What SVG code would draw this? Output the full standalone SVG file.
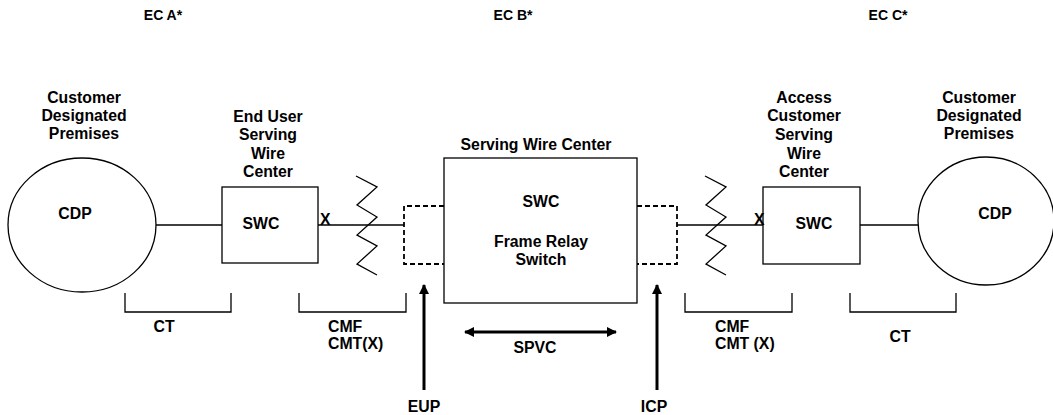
<svg xmlns="http://www.w3.org/2000/svg" width="1053" height="415" viewBox="0 0 1053 415">
<defs>
<style>
text{font-family:"Liberation Sans",Arial,sans-serif;font-weight:bold;font-size:15.8px;fill:#000}
.c{text-anchor:middle}
.ec{font-size:14px}
.ln{fill:none;stroke:#000;stroke-width:1.3}
.ds{fill:none;stroke:#000;stroke-width:1.8;stroke-dasharray:5 3}
.th{fill:none;stroke:#000;stroke-width:3}
</style>
<marker id="ah" viewBox="0 0 10 10" refX="9" refY="5" markerWidth="10" markerHeight="10" markerUnits="userSpaceOnUse" orient="auto-start-reverse">
<path d="M0,0 L10,5 L0,10 z" fill="#000"/>
</marker>
</defs>
<rect width="1053" height="415" fill="#fff"/>
<g id="labels-top">
<text class="ec c" x="163" y="20">EC A*</text>
<text class="ec c" x="513" y="20">EC B*</text>
<text class="ec c" x="888" y="20">EC C*</text>
</g>
<g id="cdp-left">
<ellipse class="ln" cx="82" cy="225" rx="74" ry="67"/>
<text class="c" x="75" y="219">CDP</text>
<text class="c" x="84" y="103">Customer</text>
<text class="c" x="84" y="121">Designated</text>
<text class="c" x="84" y="139">Premises</text>
</g>
<g id="swc-left">
<rect class="ln" x="222" y="187" width="96" height="76"/>
<text class="c" x="261" y="229">SWC</text>
<text class="c" x="268" y="122">End User</text>
<text class="c" x="268" y="140">Serving</text>
<text class="c" x="268" y="159">Wire</text>
<text class="c" x="268" y="177">Center</text>
</g>
<g id="swc-main">
<rect class="ln" x="444" y="158" width="193" height="145"/>
<text class="c" x="536" y="150">Serving Wire Center</text>
<text class="c" x="541" y="207">SWC</text>
<text class="c" x="541" y="247">Frame Relay</text>
<text class="c" x="541" y="265">Switch</text>
</g>
<g id="port-left">
<path class="ds" d="M444,206 H404 V264 H444"/>
</g>
<g id="port-right">
<path class="ds" d="M637,206 H677 V264 H637"/>
</g>
<g id="swc-right">
<rect class="ln" x="763" y="187" width="97" height="77"/>
<text class="c" x="814" y="229">SWC</text>
<text class="c" x="804" y="103">Access</text>
<text class="c" x="804" y="121">Customer</text>
<text class="c" x="804" y="140">Serving</text>
<text class="c" x="804" y="159">Wire</text>
<text class="c" x="804" y="177">Center</text>
</g>
<g id="cdp-right">
<ellipse class="ln" cx="986" cy="221" rx="68" ry="64"/>
<text class="c" x="995" y="219">CDP</text>
<text class="c" x="979" y="103">Customer</text>
<text class="c" x="979" y="121">Designated</text>
<text class="c" x="979" y="139">Premises</text>
</g>
<g id="connectors">
<line class="ln" x1="156" y1="225" x2="222" y2="225"/>
<line class="ln" x1="318" y1="225" x2="404" y2="225"/>
<line class="ln" x1="677" y1="225" x2="763" y2="225"/>
<line class="ln" x1="860" y1="225" x2="918" y2="225"/>
<polyline class="ln" points="356,176 377,187 357,205 377,217 357,235 377,246 357,264 377,275"/>
<polyline class="ln" points="705,176 726,187 706,205 726,217 706,235 726,246 706,264 726,275"/>
<text x="320" y="225">X</text>
<text x="754" y="225">X</text>
<line class="th" x1="424" y1="390" x2="424" y2="285" marker-end="url(#ah)"/>
<line class="th" x1="657" y1="390" x2="657" y2="285" marker-end="url(#ah)"/>
<line class="th" x1="465" y1="332" x2="616" y2="332" marker-start="url(#ah)" marker-end="url(#ah)"/>
<path class="ln" d="M125,293 V312 H231 V293"/>
<path class="ln" d="M299,293 V312 H406 V293"/>
<path class="ln" d="M685,293 V312 H792 V293"/>
<path class="ln" d="M850,293 V312 H956 V293"/>
</g>
<g id="labels-bottom">
<text class="c" x="164" y="332">CT</text>
<text x="328" y="332">CMF</text>
<text x="328" y="349">CMT(X)</text>
<text x="715" y="332">CMF</text>
<text x="715" y="349">CMT (X)</text>
<text class="c" x="900" y="342">CT</text>
<text class="c" x="535" y="353">SPVC</text>
<text class="c" x="424" y="412">EUP</text>
<text class="c" x="654" y="412">ICP</text>
</g>
</svg>
